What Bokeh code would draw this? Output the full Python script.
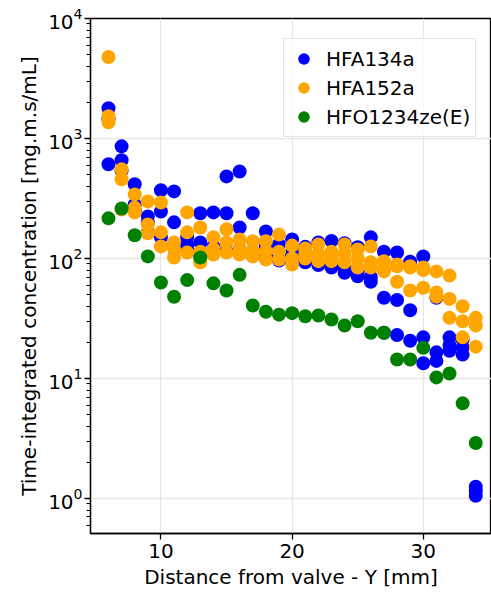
from bokeh.plotting import figure
from bokeh.models import (ColumnDataSource, FixedTicker, Legend, LegendItem,
                          Range1d, LogTicker)
from bokeh.embed import file_html
from bokeh.resources import INLINE

# ---------------- data ----------------
distance_mm = list(range(6, 35))

hfa134a_a = [1786, 860, 415, 224, 370, 362, 150, 238, 242, 483, 530, 238, 168, 131, 144,
             125, 136, 140, 134, 124, 150, 114, 112, 94, 104, 47, 22, 21, 1.25]
hfa134a_b = [1450, 658, 282, 200, 246, 200, 130, 136, 126, 238, 181, 115, 126, 105, 112,
             104, 93, 90, 82, 78, 70, 47, 45, 37, 22, 16.5, 19, 18, 1.15]
hfa134a_c = [609, 540, 250, 165, 150, 130, 120, 105, 115, 115, 120, 105, 100, 96, 95,
             93, 88, 84, 76, 71, 64, 24, 23, 20.6, 13.4, 14, 17, 15.8, 1.05]

hfa152a_a = [4770, 553, 342, 299, 293, 136, 242, 181, 150, 175, 144, 139, 139, 158, 128,
             121, 131, 114, 131, 119, 126, 95, 89, 86, 84, 78, 72, 40, 32]
hfa152a_b = [1530, 457, 265, 192, 165, 120, 165, 114, 120, 136, 120, 115, 115, 114, 100,
             108, 110, 104, 110, 100, 93, 81, 86, 84, 80, 52, 46, 30, 27.6]
hfa152a_c = [1365, 256, 242, 162, 126, 102, 112, 93, 108, 112, 108, 104, 98, 98, 89,
             100, 95, 95, 93, 84, 84, 78, 64, 54, 57, 48, 32, 22, 18.4]

hfo1234ze = [216, 261, 156, 104, 63, 48, 66, 102, 62, 54, 73, 40.6, 36, 34, 35,
             33, 33.5, 31, 27.6, 30, 24, 24, 14.4, 14.4, 18, 10.2, 11, 6.2, 2.9]

series_names = ["HFA134a", "HFA152a", "HFO1234ze(E)"]
series_colors = ["#0000ff", "#ffa500", "#008000"]
x_ticks = [10, 20, 30]

# ---------------- figure ----------------
FONT = "DejaVu Sans"
FS = "20px"
p = figure(width=491, height=597, y_axis_type="log",
           x_range=Range1d(4.63, 35.2), y_range=Range1d(0.51, 1e4),
           output_backend="svg", toolbar_location=None,
           min_border_left=90, min_border_right=0, min_border_top=18,
           min_border_bottom=64)
p.background_fill_color = "white"
p.border_fill_color = "white"
p.outline_line_color = "black"
p.outline_line_width = 1.3

groups = [
    [hfa134a_a, hfa134a_b, hfa134a_c],
    [hfa152a_a, hfa152a_b, hfa152a_c],
    [hfo1234ze],
]
renderers = []
for name, color, arrs in zip(series_names, series_colors, groups):
    xs, ys = [], []
    for arr in arrs:
        xs += distance_mm
        ys += arr
    src = ColumnDataSource(dict(x=xs, y=ys))
    r = p.scatter("x", "y", source=src, size=14, fill_color=color,
                  line_color=color, line_width=0)
    renderers.append(r)

# axes
p.xaxis.ticker = FixedTicker(ticks=x_ticks)
p.xgrid.ticker = FixedTicker(ticks=x_ticks)
p.yaxis.ticker = LogTicker(num_minor_ticks=10)
p.xaxis.axis_label = "Distance from valve - Y [mm]"
p.yaxis.axis_label = "Time-integrated concentration [mg.m.s/mL]"
for ax in (p.xaxis, p.yaxis):
    ax.axis_label_text_font = FONT
    ax.axis_label_text_font_size = FS
    ax.axis_label_text_font_style = "normal"
    ax.axis_label_text_color = "black"
    ax.major_label_text_font = FONT
    ax.major_label_text_font_size = FS
    ax.major_label_text_color = "black"
    ax.axis_line_color = "black"
    ax.axis_line_width = 1.3
    ax.major_tick_line_color = "black"
    ax.major_tick_line_width = 1.3
    ax.major_tick_out = 6
    ax.major_tick_in = 0
    ax.minor_tick_in = 0
ax = p.yaxis
ax.minor_tick_out = 4
ax.minor_tick_line_color = "black"
ax.minor_tick_line_width = 1
p.xaxis.minor_tick_line_color = None
p.xaxis.axis_label_standoff = 4
p.yaxis.axis_label_standoff = 4
p.xaxis.major_label_standoff = 4
p.yaxis.major_label_standoff = 2

p.grid.grid_line_color = "#e6e6e6"
p.grid.grid_line_width = 1.3

legend = Legend(items=[LegendItem(label=n, renderers=[r])
                       for n, r in zip(series_names, renderers)],
                location=(193, 396))
legend.label_text_font = FONT
legend.label_text_font_size = FS
legend.label_text_color = "black"
legend.glyph_width = 29
legend.glyph_height = 29
legend.spacing = 0
legend.padding = 5
legend.margin = 0
legend.label_standoff = 8
legend.border_line_color = "#cccccc"
legend.border_line_width = 1.3
legend.background_fill_color = "white"
legend.background_fill_alpha = 0.8
p.add_layout(legend)

open("out.html", "w").write(file_html(p, INLINE))
